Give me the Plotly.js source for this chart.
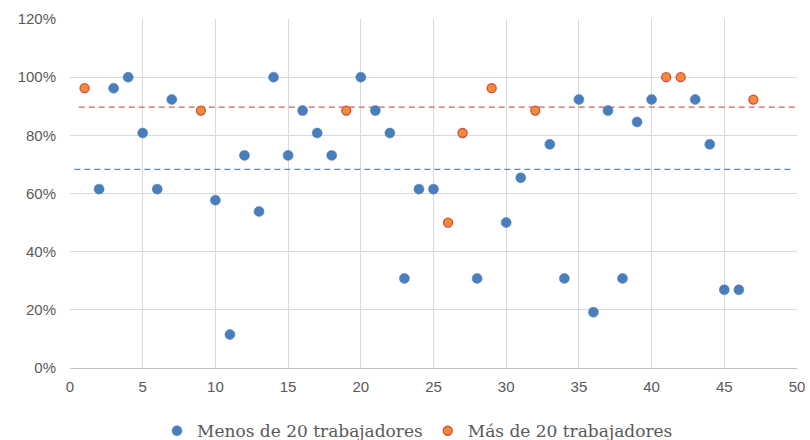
<!DOCTYPE html>
<html>
<head>
<meta charset="utf-8">
<script src="https://cdn.plot.ly/plotly-3.0.1.min.js"></script>
<style>html,body{margin:0;padding:0;background:#fff;}#chart{width:810px;height:440px;}</style>
</head>
<body>
<div id="chart"></div>
<script>
// Menos de 20 trabajadores
const smallX = [2,3,4,5,6,7,10,11,12,13,14,15,16,17,18,20,21,22,23,24,25,28,30,31,33,34,35,36,37,38,39,40,43,44,45,46];
const smallY = [0.615,0.962,1.0,0.808,0.615,0.923,0.577,0.115,0.731,0.538,1.0,0.731,0.885,0.808,0.731,1.0,0.885,0.808,0.308,0.615,0.615,0.308,0.5,0.654,0.769,0.308,0.923,0.192,0.885,0.308,0.846,0.923,0.923,0.769,0.269,0.269];
// Más de 20 trabajadores
const bigX = [1,9,19,26,27,29,32,41,42,47];
const bigY = [0.962,0.885,0.885,0.5,0.808,0.962,0.885,1.0,1.0,0.923];
// Dashed reference lines
const smallRefX = [0.3,49.8];
const smallRefY = [0.683,0.683];
const bigRefX = [0.6,50];
const bigRefY = [0.897,0.897];
const legendNames = ['Menos de 20 trabajadores','Más de 20 trabajadores'];

const traces = [
  {x: smallRefX, y: smallRefY, mode:'lines', showlegend:false, hoverinfo:'skip',
   line:{color:'#5B86C5', width:1.3, dash:'6px,4px'}},
  {x: bigRefX, y: bigRefY, mode:'lines', showlegend:false, hoverinfo:'skip',
   line:{color:'#D0625A', width:1.3, dash:'6px,4px'}},
  {x: smallX, y: smallY, mode:'markers', name: legendNames[0],
   marker:{color:'#4A7EBB', size:10, line:{color:'#4A7EBB', width:0.5}}},
  {x: bigX, y: bigY, mode:'markers', name: legendNames[1],
   marker:{color:'#F58A3A', size:9, line:{color:'#CF4E3E', width:1.3}}}
];

const layout = {
  width:810, height:440,
  margin:{l:70, r:13, t:19, b:72, autoexpand:false},
  paper_bgcolor:'#ffffff', plot_bgcolor:'#ffffff',
  font:{family:'"Liberation Sans", Arial, sans-serif', color:'#595959', size:15},
  xaxis:{range:[0,50], dtick:5, tick0:0, showgrid:true, gridcolor:'#D9D9D9', gridwidth:1,
         zeroline:false, showline:true, linecolor:'#BFBFBF', ticks:'', ticklen:0, ticklabelstandoff:5,
         tickfont:{size:15, color:'#595959'}, automargin:false},
  yaxis:{range:[0,1.2], dtick:0.2, tick0:0, tickformat:'.0%', showgrid:true, gridcolor:'#D9D9D9', gridwidth:1,
         zeroline:false, showline:false, ticks:'', ticklabelstandoff:13,
         tickfont:{size:15, color:'#595959'}, automargin:false},
  showlegend:true,
  legend:{orientation:'h', x:0.478, xanchor:'center', yref:'container', y:0.02, yanchor:'middle',
          font:{family:'"DejaVu Serif", "Liberation Serif", serif', size:17, color:'#595959'},
          itemwidth:30, tracegroupgap:0},
};

Plotly.newPlot('chart', traces, layout, {displayModeBar:false, staticPlot:true});
</script>
</body>
</html>
